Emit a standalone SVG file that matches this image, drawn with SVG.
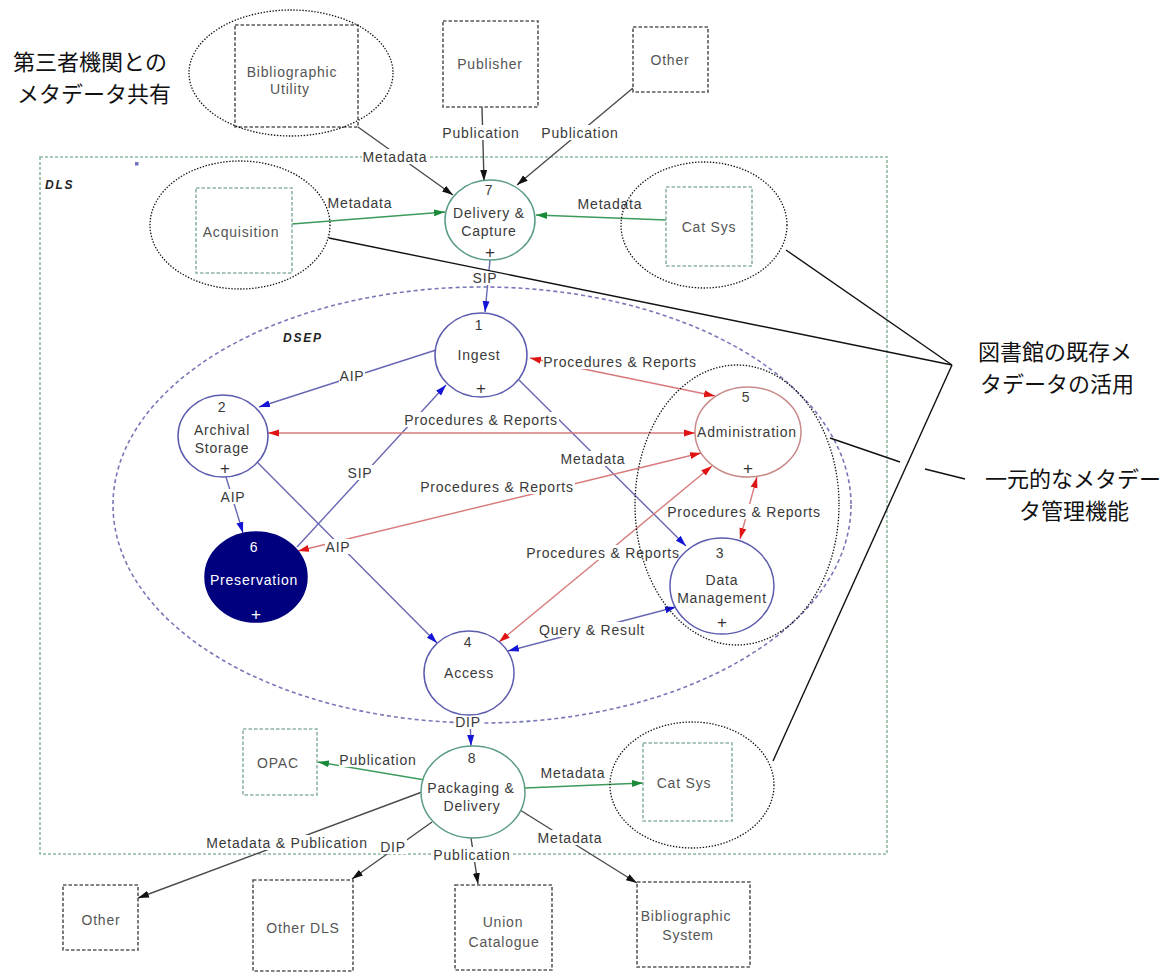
<svg xmlns="http://www.w3.org/2000/svg" width="1175" height="974" viewBox="0 0 1175 974">
<style>
  text { font-family: "Liberation Sans", Arial, sans-serif; }
  .t { font-size: 14px; letter-spacing: 0.8px; fill: #3a3a3a; text-anchor: middle; }
  .bt { font-size: 14px; letter-spacing: 0.8px; fill: #555; text-anchor: middle; }
  .wt { font-size: 14px; letter-spacing: 0.8px; fill: #fff; text-anchor: middle; }
  .pl { font-size: 17px; fill: #333; text-anchor: middle; }
  .plw { font-size: 17px; fill: #fff; text-anchor: middle; }
  .grp { font-size: 12px; font-weight: bold; font-style: italic; letter-spacing: 1.8px; fill: #222; }
  .ext { fill: #fff; stroke: #5a5a5a; stroke-width: 1.6; stroke-dasharray: 3.5 2; }
  .int { fill: #fff; stroke: #8fb3a8; stroke-width: 1.6; stroke-dasharray: 3.5 2; }
  .cb { fill: #fff; stroke: #5c5cae; stroke-width: 1.5; }
  .cg { fill: #fff; stroke: #5a9c84; stroke-width: 1.5; }
  .cr { fill: #fff; stroke: #c98a8a; stroke-width: 1.5; }
  .cn { fill: #00007e; stroke: #00007e; stroke-width: 1.5; }
  .lb { stroke: #6767b4; stroke-width: 1.4; fill: none; marker-end: url(#mb); }
  .lbb { stroke: #6767b4; stroke-width: 1.4; fill: none; marker-start: url(#mb); marker-end: url(#mb); }
  .lr { stroke: #d87a7a; stroke-width: 1.4; fill: none; marker-start: url(#mr); marker-end: url(#mr); }
  .lg { stroke: #3c9a5a; stroke-width: 1.4; fill: none; marker-end: url(#mg); }
  .lk { stroke: #4a4a4a; stroke-width: 1.4; fill: none; marker-end: url(#mk); }
  .bg { fill: #fff; }
  .call { fill: none; stroke: #111; stroke-width: 1.3; stroke-dasharray: 1.4 1.6; }
  .cl { stroke: #111; stroke-width: 1.4; fill: none; }
  .jp { font-family: "Noto Sans CJK JP", "Noto Sans CJK SC", sans-serif; font-size: 22px; fill: #111; }
</style>
<defs>
  <marker id="mb" viewBox="0 0 11 8" refX="11" refY="4" markerWidth="11" markerHeight="8" markerUnits="userSpaceOnUse" orient="auto-start-reverse">
    <path d="M0,0.5 L11,4 L0,7.5 z" fill="#1515d8"/>
  </marker>
  <marker id="mr" viewBox="0 0 11 8" refX="11" refY="4" markerWidth="11" markerHeight="8" markerUnits="userSpaceOnUse" orient="auto-start-reverse">
    <path d="M0,0.5 L11,4 L0,7.5 z" fill="#e01414"/>
  </marker>
  <marker id="mg" viewBox="0 0 11 8" refX="11" refY="4" markerWidth="11" markerHeight="8" markerUnits="userSpaceOnUse" orient="auto-start-reverse">
    <path d="M0,0.5 L11,4 L0,7.5 z" fill="#1a8a3a"/>
  </marker>
  <marker id="mk" viewBox="0 0 11 8" refX="11" refY="4" markerWidth="11" markerHeight="8" markerUnits="userSpaceOnUse" orient="auto-start-reverse">
    <path d="M0,0.5 L11,4 L0,7.5 z" fill="#111"/>
  </marker>
</defs>

<rect width="1175" height="974" fill="#fff"/>

<!-- system boundaries -->
<g id="dls">
  <rect x="40" y="157" width="847" height="697" fill="none" stroke="#8fb8a0" stroke-width="1.6" stroke-dasharray="3 2"/>
  <rect x="135" y="162" width="3.5" height="3.5" fill="#7070c0"/>
  <text class="grp" x="45" y="189">DLS</text>
</g>
<g id="dsep">
  <ellipse cx="482" cy="505" rx="369" ry="218" fill="none" stroke="#7878b8" stroke-width="1.6" stroke-dasharray="4 3"/>
  <text class="grp" x="283" y="342">DSEP</text>
</g>

<!-- connectors -->
<g id="connectors">
  <!-- blue flows -->
  <path class="lb" d="M490,260 L485,312"/>
  <path class="lb" d="M436,350 L259,407"/>
  <path class="lb" d="M297,547 L446,385"/>
  <path class="lb" d="M258,463 L437,643"/>
  <path class="lb" d="M226,477 L243,533"/>
  <path class="lb" d="M519,380 L686,546"/>
  <path class="lbb" d="M676,607 L508,651"/>
  <path class="lb" d="M470,715 L471,746"/>
  <!-- red flows -->
  <path class="lr" d="M530,358 L715,396"/>
  <path class="lr" d="M268,433 L695,433"/>
  <path class="lr" d="M298,551 L701,453"/>
  <path class="lr" d="M712,466 L499,642"/>
  <path class="lr" d="M757,477 L740,539"/>
  <!-- green flows -->
  <path class="lg" d="M292,224 L445,212"/>
  <path class="lg" d="M666,220 L536,215"/>
  <path class="lg" d="M425,780 L318,762"/>
  <path class="lg" d="M525,788 L643,783"/>
  <!-- external flows -->
  <path class="lk" d="M358,127 L453,195"/>
  <path class="lk" d="M482,107 L484,181"/>
  <path class="lk" d="M633,88 L517,185"/>
  <path class="lk" d="M520,810 L637,883"/>
  <path class="lk" d="M471,838 L478,884"/>
  <path class="lk" d="M432,822 L352,879"/>
  <path class="lk" d="M422,792 L138,898"/>

  <!-- flow labels -->
  <rect class="bg" x="362" y="149" width="66" height="15"/><text class="t" x="395" y="162">Metadata</text>
  <rect class="bg" x="442" y="125" width="79" height="15"/><text class="t" x="481" y="138">Publication</text>
  <rect class="bg" x="541" y="125" width="79" height="15"/><text class="t" x="580" y="138">Publication</text>
  <rect class="bg" x="327" y="195" width="66" height="15"/><text class="t" x="360" y="208">Metadata</text>
  <rect class="bg" x="577" y="196" width="66" height="15"/><text class="t" x="610" y="209">Metadata</text>
  <rect class="bg" x="472" y="270" width="26" height="15"/><text class="t" x="485" y="283">SIP</text>
  <rect class="bg" x="339" y="368" width="26" height="15"/><text class="t" x="352" y="381">AIP</text>
  <rect class="bg" x="543" y="354" width="155" height="15"/><text class="t" x="620" y="367">Procedures &amp; Reports</text>
  <rect class="bg" x="404" y="412" width="155" height="15"/><text class="t" x="481" y="425">Procedures &amp; Reports</text>
  <rect class="bg" x="347" y="465" width="26" height="15"/><text class="t" x="360" y="478">SIP</text>
  <rect class="bg" x="220" y="489" width="26" height="15"/><text class="t" x="233" y="502">AIP</text>
  <rect class="bg" x="325" y="539" width="26" height="15"/><text class="t" x="338" y="552">AIP</text>
  <rect class="bg" x="420" y="479" width="155" height="15"/><text class="t" x="497" y="492">Procedures &amp; Reports</text>
  <rect class="bg" x="560" y="451" width="66" height="15"/><text class="t" x="593" y="464">Metadata</text>
  <rect class="bg" x="526" y="545" width="155" height="15"/><text class="t" x="603" y="558">Procedures &amp; Reports</text>
  <rect class="bg" x="667" y="504" width="155" height="15"/><text class="t" x="744" y="517">Procedures &amp; Reports</text>
  <rect class="bg" x="539" y="622" width="107" height="15"/><text class="t" x="592" y="635">Query &amp; Result</text>
  <rect class="bg" x="455" y="714" width="27" height="15"/><text class="t" x="468" y="727">DIP</text>
  <rect class="bg" x="339" y="752" width="79" height="15"/><text class="t" x="378" y="765">Publication</text>
  <rect class="bg" x="540" y="765" width="66" height="15"/><text class="t" x="573" y="778">Metadata</text>
  <rect class="bg" x="537" y="830" width="66" height="15"/><text class="t" x="570" y="843">Metadata</text>
  <rect class="bg" x="433" y="847" width="79" height="15"/><text class="t" x="472" y="860">Publication</text>
  <rect class="bg" x="380" y="839" width="27" height="15"/><text class="t" x="393" y="852">DIP</text>
  <rect class="bg" x="206" y="835" width="163" height="15"/><text class="t" x="287" y="848">Metadata &amp; Publication</text>
</g>

<!-- external entities -->
<g id="bib-utility">
  <rect class="ext" x="235" y="25" width="123" height="102"/>
  <text class="bt" x="292" y="77">Bibliographic</text>
  <text class="bt" x="290" y="94">Utility</text>
</g>
<g id="publisher">
  <rect class="ext" x="443" y="21" width="95" height="86"/>
  <text class="bt" x="490" y="69">Publisher</text>
</g>
<g id="other-in">
  <rect class="ext" x="633" y="27" width="75" height="65"/>
  <text class="bt" x="670" y="65">Other</text>
</g>
<g id="acquisition">
  <rect class="int" x="196" y="188" width="96" height="85"/>
  <text class="bt" x="241" y="237">Acquisition</text>
</g>
<g id="catsys-in">
  <rect class="int" x="666" y="187" width="86" height="79"/>
  <text class="bt" x="709" y="232">Cat Sys</text>
</g>
<g id="opac">
  <rect class="int" x="243" y="729" width="74" height="66"/>
  <text class="bt" x="278" y="768">OPAC</text>
</g>
<g id="catsys-out">
  <rect class="int" x="643" y="743" width="89" height="78"/>
  <text class="bt" x="684" y="788">Cat Sys</text>
</g>
<g id="other-out">
  <rect class="ext" x="63" y="885" width="75" height="65"/>
  <text class="bt" x="101" y="925">Other</text>
</g>
<g id="other-dls">
  <rect class="ext" x="253" y="880" width="100" height="91"/>
  <text class="bt" x="303" y="933">Other DLS</text>
</g>
<g id="union-catalogue">
  <rect class="ext" x="455" y="885" width="97" height="85"/>
  <text class="bt" x="503" y="927">Union</text>
  <text class="bt" x="504" y="947">Catalogue</text>
</g>
<g id="bib-system">
  <rect class="ext" x="637" y="882" width="113" height="85"/>
  <text class="bt" x="686" y="921">Bibliographic</text>
  <text class="bt" x="688" y="940">System</text>
</g>

<!-- processes -->
<g id="p7">
  <ellipse class="cg" cx="490" cy="220" rx="45" ry="40"/>
  <text class="t" x="489" y="195">7</text>
  <text class="t" x="489" y="218">Delivery &amp;</text>
  <text class="t" x="489" y="236">Capture</text>
  <text class="pl" x="490" y="258">+</text>
</g>
<g id="p1">
  <ellipse class="cb" cx="481" cy="355" rx="46" ry="42"/>
  <text class="t" x="479" y="330">1</text>
  <text class="t" x="479" y="360">Ingest</text>
  <text class="pl" x="481" y="394">+</text>
</g>
<g id="p2">
  <ellipse class="cb" cx="223" cy="436" rx="45" ry="41"/>
  <text class="t" x="222" y="412">2</text>
  <text class="t" x="222" y="435">Archival</text>
  <text class="t" x="222" y="453">Storage</text>
  <text class="pl" x="225" y="474">+</text>
</g>
<g id="p5">
  <ellipse class="cr" cx="748" cy="432" rx="53" ry="45"/>
  <text class="t" x="746" y="402">5</text>
  <text class="t" x="747" y="437">Administration</text>
  <text class="pl" x="748" y="474">+</text>
</g>
<g id="p6">
  <ellipse class="cn" cx="256" cy="577" rx="51" ry="45"/>
  <text class="wt" x="254" y="552">6</text>
  <text class="wt" x="254" y="585">Preservation</text>
  <text class="plw" x="256" y="620">+</text>
</g>
<g id="p3">
  <ellipse class="cb" cx="722" cy="586" rx="52" ry="48"/>
  <text class="t" x="720" y="558">3</text>
  <text class="t" x="722" y="585">Data</text>
  <text class="t" x="722" y="603">Management</text>
  <text class="pl" x="722" y="628">+</text>
</g>
<g id="p4">
  <ellipse class="cb" cx="469" cy="673" rx="45" ry="42"/>
  <text class="t" x="468" y="647">4</text>
  <text class="t" x="469" y="678">Access</text>
</g>
<g id="p8">
  <ellipse class="cg" cx="473" cy="792" rx="52" ry="46"/>
  <text class="t" x="472" y="763">8</text>
  <text class="t" x="471" y="793">Packaging &amp;</text>
  <text class="t" x="472" y="811">Delivery</text>
</g>

<!-- annotation highlights -->
<g id="annotations">
  <ellipse class="call" cx="291" cy="73" rx="102" ry="63"/>
  <ellipse class="call" cx="240" cy="225" rx="90" ry="64"/>
  <ellipse class="call" cx="704" cy="225" rx="83" ry="63"/>
  <ellipse class="call" cx="737" cy="505" rx="102" ry="140"/>
  <ellipse class="call" cx="692" cy="785" rx="82" ry="63"/>
  <path class="cl" d="M786,250 L952,365"/>
  <path class="cl" d="M329,238 L952,365"/>
  <path class="cl" d="M952,365 L773,761"/>
  <path class="cl" d="M830,438 L900,462"/>
  <path class="cl" d="M925,469 L965,479"/>
  <text class="jp" x="90" y="70" text-anchor="middle">第三者機関との</text>
  <text class="jp" x="94" y="102" text-anchor="middle">メタデータ共有</text>
  <text class="jp" x="978" y="360">図書館の既存メ</text>
  <text class="jp" x="980" y="392">タデータの活用</text>
  <text class="jp" x="1073" y="487" text-anchor="middle">一元的なメタデー</text>
  <text class="jp" x="1074" y="519" text-anchor="middle">タ管理機能</text>
</g>
</svg>
